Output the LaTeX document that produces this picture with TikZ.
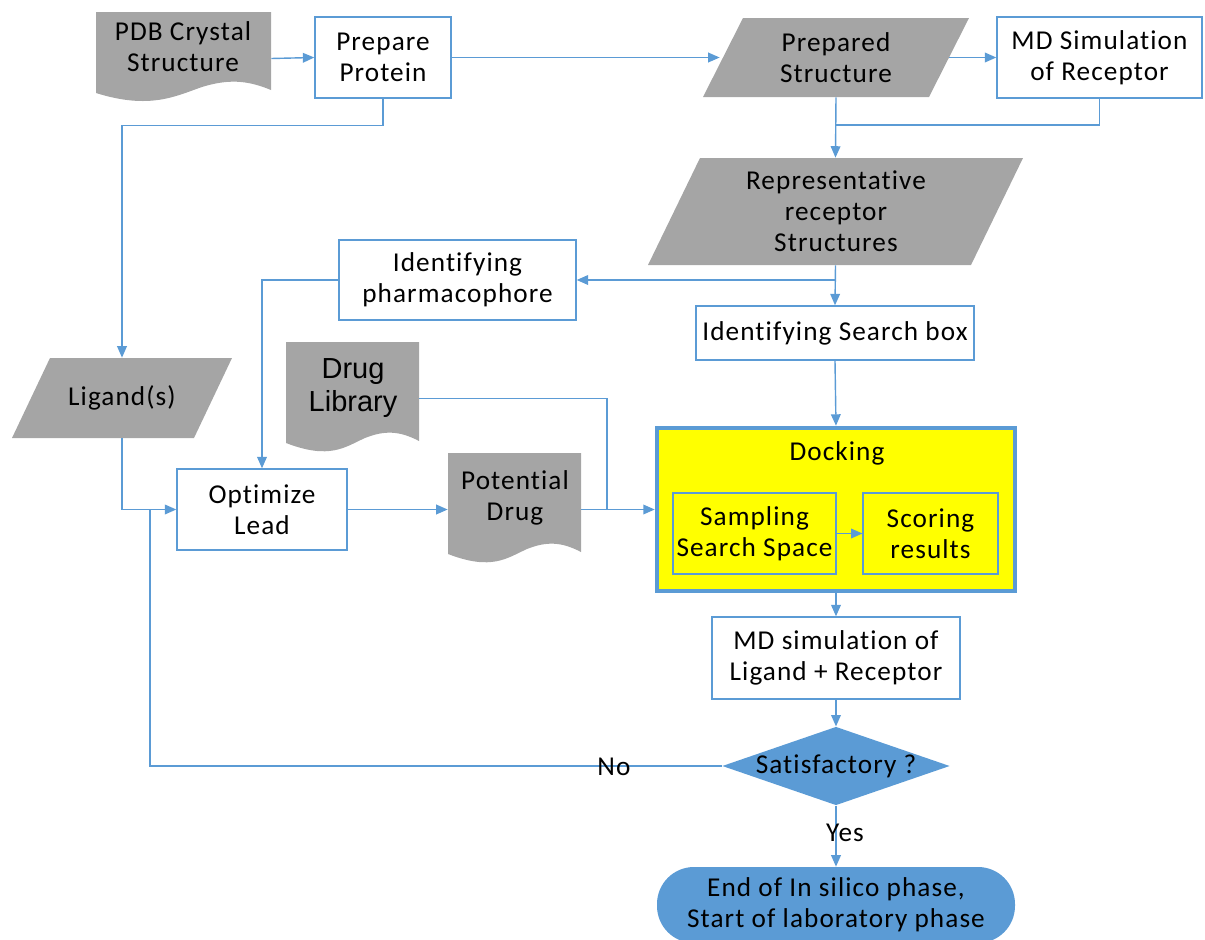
\documentclass[tikz,border=0pt]{standalone}
\usepackage{fontspec}
\setmainfont{Carlito}[LetterSpace=4,Ligatures=NoCommon]
\newfontfamily\arialf{Liberation Sans}
\usetikzlibrary{arrows.meta,shapes.geometric,calc}
\definecolor{ablue}{HTML}{5B9BD5}
\definecolor{agray}{HTML}{A5A5A5}
\definecolor{ayellow}{HTML}{FFFF00}
\newcommand\fs{\fontsize{15.5}{17.7}\selectfont}
\newcommand\mybox[7][]{\node[proc,#1,minimum width={(#4-#2)*0.02cm},minimum height={(#5-#3)*0.02cm}] (#6) at ({(#2+#4)/2},{(#3+#5)/2}) {#7};}
\newcommand\anchorbox[5]{\node[hole,minimum width={(#3-#1)*0.02cm},minimum height={(#4-#2)*0.02cm}] (#5) at ({(#1+#3)/2},{(#2+#4)/2}) {};}
\begin{document}
\begin{tikzpicture}[x=0.02cm,y=-0.02cm,
  line/.style={draw=ablue,line width=0.8pt},
  arr/.style={line,-{Triangle[length=6.5pt,width=5.5pt]}},
  proc/.style={draw=ablue,line width=0.8pt,fill=white,align=center,inner sep=0pt,font=\fs},
  hole/.style={draw=none,align=center,inner sep=0pt,font=\fs},
  lbl/.style={align=center,font=\fs,inner sep=0pt}]
\useasboundingbox (0,0) rectangle (1205,940);

% ---- gray data / document shapes ----
% PDB document
\fill[agray] (96,12) -- (271,12) -- (271,90) .. controls (247,80) and (228,79) .. (202,87) .. controls (176,96) and (150,110) .. (96,93) -- cycle;
\anchorbox{96}{12}{271}{105}{pdb}
\node[lbl] (pdbtxt) at (183,47) {PDB Crystal\\Structure};
% Prepared structure parallelogram
\fill[agray] (703,97) -- (743,18) -- (969,18) -- (929,97) -- cycle;
\anchorbox{703}{18}{969}{97}{pstruct}
\node[lbl] (psttxt) at (836,57.5) {Prepared\\Structure};
% Representative parallelogram
\fill[agray] (648,265) -- (700,158) -- (1023,158) -- (971,265) -- cycle;
\anchorbox{648}{158}{1023}{265}{rep}
\node[lbl] (reptxt) at (836,211) {Representative\\receptor\\Structures};
% Ligand parallelogram
\fill[agray] (12,438) -- (50,358) -- (232,358) -- (194,438) -- cycle;
\anchorbox{12}{358}{232}{438}{lig}
\node[lbl] (ligtxt) at (122,398) {Ligand(s)};
% Drug library document
\fill[agray] (286,342) -- (419,342) -- (419,441) .. controls (400,431) and (385,430) .. (365,438) .. controls (345,447) and (330,460) .. (286,443) -- cycle;
\anchorbox{286}{342}{419}{455}{drug}
\node[align=center,inner sep=0pt,font={\arialf\fontsize{16.5}{19}\selectfont}] (drugtxt) at (353,388) {Drug\\Library};
% Potential drug document
\fill[agray] (448,453) -- (581,453) -- (581,552) .. controls (562,542) and (547,541) .. (527,549) .. controls (507,558) and (492,571) .. (448,554) -- cycle;
\anchorbox{448}{453}{581}{565}{pot}
\node[lbl] (pottxt) at (515,498) {Potential\\Drug};

% ---- process boxes ----
\mybox{315}{17}{451}{98}{prot}{Prepare\\Protein}
\mybox{997}{17}{1202}{98}{mdr}{MD Simulation\\of Receptor}
\mybox{339}{240}{576}{320}{pharm}{Identifying\\pharmacophore}
\mybox{696}{306}{974}{360}{sbox}{Identifying Search box}
\mybox{177}{469}{347}{550}{opt}{Optimize\\Lead}
\mybox[fill=ayellow,line width=2.6pt]{657}{428}{1015}{591}{dock}{}
\node[lbl] (docktxt) at (837,453) {Docking};
\mybox[fill=ayellow,line width=0.6pt]{673}{493}{836}{574}{samp}{Sampling\\Search Space}
\mybox[fill=ayellow,line width=0.6pt]{863}{493}{998}{574}{score}{Scoring\\results}
\mybox{712}{617}{960}{699}{mdl}{MD simulation of\\Ligand + Receptor}
\node[diamond,aspect=2.9,fill=ablue,draw=none,inner sep=0pt,font=\fs,
  minimum width={225*0.02cm},minimum height={78*0.02cm}] (diam) at (836,766) {Satisfactory ?};
\node[fill=ablue,draw=none,rounded corners=0.74cm,align=center,inner sep=0pt,font=\fs,
  minimum width={358*0.02cm},minimum height={76*0.02cm}] (term) at (836,905) {End of In silico phase,\\Start of laboratory phase};

% ---- connectors ----
\coordinate (j1) at (836,125);
\coordinate (j2) at (836,280);
\coordinate (j3) at (607,509.5);
\coordinate (j4) at (150,509.5);
\draw[arr] (pdb.east) -- (prot.west);
\draw[arr] (prot.east) -- ($(pstruct.west)+(17,0)$);
\draw[arr] ($(pstruct.east)-(20,0)$) -- (mdr.west);
\draw[arr] (prot.south) -- ++(0,27) -| (lig.north);
\draw[arr] (pstruct.south) -- (rep.north);
\draw[line] (mdr.south) |- (j1);
\draw[arr] (rep.south) -- (sbox.north);
\draw[arr] (j2) -- (pharm.east);
\draw[arr] (pharm.west) -| (opt.north);
\draw[arr] (lig.south) |- (opt.west);
\draw[arr] (opt.east) -- (opt.east -| pot.west);
\draw[arr] (pot.east |- dock.west) -- (dock.west);
\draw[line] (drug.east) -| (j3);
\draw[arr] (sbox.south) -- (dock.north);
\draw[arr] (samp.east) -- (score.west);
\draw[arr] (dock.south) -- (mdl.north);
\draw[arr] (mdl.south) -- (diam.north);
\draw[arr] (diam.south) -- (term.north);
\draw[line] (diam.west) -| (j4);
\node[lbl] (yes) at (845,833) {Yes};
\node[lbl] (no) at (614,767) {No};
\end{tikzpicture}
\end{document}
